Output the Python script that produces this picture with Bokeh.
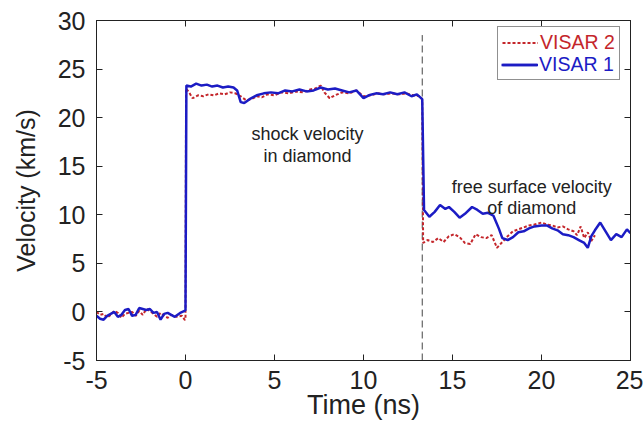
from bokeh.plotting import figure
from bokeh.models import Legend, LegendItem, LinearAxis, Label, FixedTicker, CustomJSTickFormatter
from bokeh.embed import file_html
from bokeh.resources import INLINE

# ---------------- data ----------------
visar1_t = [-5.0, -4.8, -4.6, -4.4, -4.2, -4.0, -3.8, -3.6, -3.4, -3.2, -3.0, -2.8, -2.6, -2.4,
            -2.2, -2.0, -1.8, -1.6, -1.4, -1.2, -1.0, -0.8, -0.6, -0.3, -0.05, 0.0,
            0.05, 0.3, 0.6, 0.9, 1.2, 1.5, 1.8, 2.1, 2.4, 2.7, 2.9, 3.1, 3.3, 3.6, 4.0, 4.4,
            4.8, 5.2, 5.6, 6.0, 6.4, 6.8, 7.2, 7.6, 8.0, 8.4, 8.8, 9.2, 9.6, 10.0, 10.3, 10.7,
            11.1, 11.5, 11.9, 12.3, 12.7, 13.0, 13.3,
            13.4, 13.7, 14.0, 14.3, 14.6, 14.8, 15.1, 15.4, 15.7, 16.1, 16.4, 16.7, 17.0, 17.3,
            17.6, 17.8, 18.1, 18.4, 18.7, 19.0, 19.3, 19.6, 20.0, 20.3, 20.6, 20.9, 21.2, 21.5,
            21.8, 22.1, 22.4, 22.6, 22.8, 23.0, 23.3, 23.6, 23.9, 24.2, 24.5, 24.8, 25.0]
visar1_v = [-0.4, -0.7, -0.8, -0.4, -0.2, 0.0, -0.5, -0.3, 0.2, 0.3, -0.4, -0.3, 0.4, 0.3,
            0.2, 0.3, -0.1, 0.0, -0.8, -0.2, -0.1, -0.3, -0.5, -0.1, 0.1, 0.2,
            23.3, 23.2, 23.5, 23.3, 23.4, 23.2, 23.3, 23.1, 23.2, 23.1, 22.8, 21.6, 21.5, 21.9, 22.3, 22.5,
            22.6, 22.5, 22.8, 22.7, 22.9, 22.7, 22.8, 23.1, 22.9, 23.0, 22.8, 22.6, 22.8, 22.0, 22.3, 22.5,
            22.4, 22.6, 22.4, 22.6, 22.2, 22.4, 21.9,
            10.5, 9.8, 10.3, 11.0, 10.6, 10.8, 10.3, 9.7, 10.1, 10.8, 10.5, 10.1, 10.2, 9.9,
            8.6, 7.6, 7.4, 7.7, 8.2, 8.3, 8.6, 8.8, 8.9, 8.9, 8.6, 8.4, 8.0, 7.9,
            7.7, 7.4, 7.1, 6.6, 7.8, 8.4, 9.2, 8.3, 7.4, 8.0, 7.7, 8.5, 8.1]

visar2_t = [-5.0, -4.8, -4.6, -4.4, -4.2, -4.0, -3.8, -3.6, -3.4, -3.2, -3.0, -2.8, -2.6, -2.4,
            -2.2, -2.0, -1.8, -1.6, -1.4, -1.2, -1.0, -0.8, -0.5, -0.2, -0.05, 0.0,
            0.03, 0.2, 0.4, 0.7, 1.0, 1.3, 1.6, 1.9, 2.2, 2.5, 2.8, 3.1, 3.4, 3.7, 4.0, 4.3,
            4.6, 5.0, 5.4, 5.8, 6.2, 6.6, 7.0, 7.3, 7.6, 7.8, 8.1, 8.4, 8.8, 9.2, 9.6, 10.0,
            10.4, 10.8, 11.2, 11.6, 12.0, 12.4, 12.8, 13.2, 13.3,
            13.35, 13.6, 13.9, 14.2, 14.5, 14.8, 15.1, 15.4, 15.7, 16.0, 16.3, 16.6, 16.9, 17.2,
            17.5, 17.8, 18.1, 18.4, 18.7, 19.0, 19.3, 19.6, 20.0, 20.3, 20.6, 20.9, 21.2, 21.5,
            21.8, 22.0, 22.2, 22.4, 22.6, 22.8, 23.0]
visar2_v = [0.0, -0.3, -0.2, -0.6, -0.3, 0.1, -0.1, -0.6, -0.2, -0.1, 0.0, -0.4, 0.1, -0.3,
            0.3, 0.1, -0.2, -0.5, -0.1, -0.4, -0.6, -0.3, -0.5, -0.4, -0.8, -0.8,
            23.0, 22.6, 22.0, 22.3, 22.2, 22.4, 22.3, 22.5, 22.4, 22.6, 22.5, 22.2, 21.8, 21.9, 22.2, 22.1,
            22.4, 22.3, 22.6, 22.5, 22.7, 22.6, 22.9, 23.0, 23.3, 22.6, 22.0, 22.3, 22.6, 22.5, 22.8, 22.2,
            22.3, 22.5, 22.4, 22.5, 22.4, 22.5, 22.3, 22.2, 21.8,
            7.1, 7.4, 7.2, 7.6, 7.2, 7.8, 8.0, 7.7, 7.1, 7.0, 8.0, 7.7, 7.6, 7.9,
            6.6, 7.2, 7.8, 8.3, 8.5, 8.7, 8.9, 9.0, 9.2, 9.0, 8.9, 8.7, 8.8, 8.5,
            8.3, 7.9, 8.8, 7.6, 8.2, 7.3, 7.9]

event_time = 13.3            # dashed marker: breakout at the free surface
event_top = 28.5
x_ticks = [-5, 0, 5, 10, 15, 20, 25]
y_ticks = [-5, 0, 5, 10, 15, 20, 25, 30]
tick_text = {t: str(t) for t in x_ticks + y_ticks}   # plain hyphen minus, as in the reference

FONT = "Liberation Sans"
RED = "#c4262b"
BLUE = "#1c1cc4"
TXT = "#222222"

p = figure(width=643, height=422, x_range=(-5, 25), y_range=(-5, 30),
           output_backend="svg", toolbar_location=None,
           min_border_left=96, min_border_right=13, min_border_top=20, min_border_bottom=20)

p.xgrid.visible = False
p.ygrid.visible = False
p.outline_line_color = "#222222"
p.outline_line_width = 1
p.background_fill_color = "white"
p.border_fill_color = "white"

def style_axis(ax, show_labels=True):
    ax.major_tick_in = 6
    ax.major_tick_out = 0
    ax.minor_tick_line_color = None
    ax.axis_line_color = "#222222"
    ax.major_tick_line_color = "#222222"
    ax.major_label_text_font = FONT
    ax.major_label_text_color = TXT
    if show_labels:
        ax.major_label_text_font_size = "25px"
        ax.major_label_overrides = tick_text
    else:
        ax.formatter = CustomJSTickFormatter(code="return ''")
        ax.major_label_standoff = 0

p.xaxis.ticker = FixedTicker(ticks=x_ticks)
p.yaxis.ticker = FixedTicker(ticks=y_ticks)
style_axis(p.xaxis[0])
style_axis(p.yaxis[0])
p.xaxis.major_label_standoff = 10
p.yaxis.major_label_standoff = 11
p.xaxis.axis_label = "Time (ns)"
p.yaxis.axis_label = "Velocity (km/s)"
for ax in (p.xaxis[0], p.yaxis[0]):
    ax.axis_label_text_font = FONT
    ax.axis_label_text_font_style = "normal"
    ax.axis_label_text_color = TXT
p.xaxis.axis_label_text_font_size = "27px"
p.yaxis.axis_label_text_font_size = "25px"
p.xaxis.axis_label_standoff = -2
p.yaxis.axis_label_standoff = 15

top_ax = LinearAxis(ticker=FixedTicker(ticks=x_ticks))
right_ax = LinearAxis(ticker=FixedTicker(ticks=y_ticks))
style_axis(top_ax, False)
style_axis(right_ax, False)
p.add_layout(top_ax, "above")
p.add_layout(right_ax, "right")

# dashed event marker
p.segment(x0=[event_time], y0=[-5], x1=[event_time], y1=[event_top],
          line_color="#444444", line_width=1, line_dash="7 4")

r2 = p.line(visar2_t, visar2_v, line_color=RED, line_width=2, line_dash="3 2")
r1 = p.line(visar1_t, visar1_v, line_color=BLUE, line_width=2.5)

# annotations
for txt, x, y in [("shock velocity", 6.85, 18.3), ("in diamond", 6.85, 16.1),
                  ("free surface velocity", 19.45, 12.9), ("of diamond", 19.45, 10.75)]:
    p.add_layout(Label(x=x, y=y, text=txt, text_font=FONT, text_font_size="18px",
                       text_color=TXT, text_align="center", text_baseline="middle"))

# legend: two overlaid legends so each label has its own colour
def make_legend(items, color, framed):
    lg = Legend(items=items, location=(401, 280), orientation="vertical")
    lg.label_text_font = FONT
    lg.label_text_font_size = "19.5px"
    lg.label_text_color = color
    lg.glyph_width = 36
    lg.glyph_height = 21
    lg.label_height = 21
    lg.label_standoff = 2
    lg.spacing = 0
    lg.padding = 4
    lg.margin = 0
    if framed:
        lg.border_line_color = "#222222"
        lg.border_line_width = 1
        lg.background_fill_color = "white"
        lg.background_fill_alpha = 1
    else:
        lg.border_line_alpha = 0
        lg.background_fill_alpha = 0
    return lg

legA = make_legend([LegendItem(label="VISAR 2", renderers=[r2]),
                    LegendItem(label=" ", renderers=[r1])], RED, True)
legB = make_legend([LegendItem(label="VISAR 1", renderers=[r1])], BLUE, False)
p.add_layout(legA, "center")
p.add_layout(legB, "center")

open("out.html", "w").write(file_html(p, INLINE))
